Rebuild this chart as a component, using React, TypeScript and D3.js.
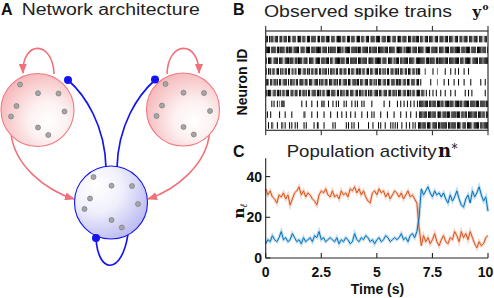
import React from "react";
import * as d3 from "d3";

// ---- panel B: observed spike trains, one string per neuron (0.05 s bins, digit = darkness 0-9)
const binSize = 0.05;
const spikeRows = [
  ["99095990999059909990", "99509990599909950999", "09999059909990999509", "99059999099509990999", "05999099509990599909",
   "99905999099950999059", "99099950999099599909", "95099909995099905999", "09990999509990599099", "95099909995099905990"],
  ["99990999909959999099", "59990999990599909999", "09995999990999909599", "99909999590999990999", "99599909999909959999",
   "09999959990999990599", "99909599999099990999", "99059999099999509999", "09999099959999909995", "99990999909999599909"],
  ["90999509999099950999", "95999099599990999509", "99905999909995999099", "50999995999099909999", "99099959999059999099",
   "99990999509999095999", "09959999099995099999", "99909995999909959999", "59990999959999099909", "99995099999099959999"],
  ["90959099059909590990", "99059095099905990959", "09909950990959909099", "59099059909950990995", "09959909905990995099",
   "90990959099059909959", "09950990995099095990", "00070000009000500000", "09000090009009000090", "00900000000000000000"],
  ["99509909959099059990", "90995909905999099509", "99059990959909950999", "09959099059990995099", "95990995099905990959",
   "09990599099509990995", "99059909950999059909", "00000000900000500000", "90009000090009000090", "00009000000009000900"],
  ["95999059909959099099", "90599099509909959099", "05999099590990599909", "99509909959099509990", "59909959099095990599",
   "90995099905990995909", "99059909959099059990", "99509009009009000900", "09000090009000000009", "00900900000000000900"],
  ["00000909009050999000", "00000000000090009000", "09000090009590009000", "90090900009090000900", "90900090900000090000",
   "00000090000900000090", "09009009009009009099", "99599909959990999599", "09999599909999599099", "99909999599909999599"],
  ["09009000000090000900", "00090000000000950000", "09000090000090000090", "00009000900090009000", "90000090000900090900",
   "00090000090000090000", "09000090009000090099", "95999099959990599909", "99599909999599909959", "90999959990999599099"],
  ["00900950009000950900", "09090090900000909000", "00090095000090000000", "90900000000090900909", "00090000000090009000",
   "09090009000090909090", "00900090090090900999", "59990999509999099599", "99909959999099950999", "09999509999909959999"],
].map((chunks) => chunks.join(""));

// ---- panel C: population activity, sampled every 0.1 s from 0 to 10 s
const sampleStep = 0.1;
const orangeActivity = [
  34, 31, 33, 30, 29, 27, 31, 30, 32, 29,
  31, 26, 29, 32, 33, 35, 31, 33, 30, 32,
  31, 29, 28, 26, 31, 33, 32, 34, 31, 30,
  33, 30, 31, 29, 33, 31, 32, 30, 34, 33,
  35, 32, 34, 31, 33, 30, 28, 27, 32, 33,
  31, 34, 32, 33, 30, 32, 29, 31, 33, 32,
  30, 32, 29, 31, 33, 30, 31, 29, 27, 15,
  6, 11, 8, 10, 7, 9, 12, 8, 6, 9,
  11, 8, 7, 10, 9, 13, 11, 8, 13, 10,
  12, 9, 13, 10, 7, 5, 8, 6, 7, 10,
  11,
];
const blueActivity = [
  7, 9, 8, 11, 9, 8, 10, 13, 9, 10,
  8, 9, 12, 10, 8, 9, 7, 10, 8, 9,
  10, 8, 11, 10, 13, 9, 10, 8, 9, 10,
  9, 8, 10, 7, 9, 8, 10, 9, 7, 8,
  12, 9, 8, 10, 9, 11, 10, 8, 9, 7,
  9, 10, 8, 9, 11, 10, 8, 9, 10, 9,
  10, 12, 9, 10, 8, 11, 12, 10, 13, 20,
  34, 31, 33, 35, 32, 30, 33, 31, 32, 30,
  32, 29, 27, 31, 28, 30, 33, 29, 26, 25,
  29, 31, 27, 33, 30, 32, 35, 31, 28, 30,
  23,
];
const timeTicks = [0, 2.5, 5, 7.5, 10];
const timeTickLabels = ["0", "2.5", "5", "7.5", "10"];
const activityTicks = [0, 20, 40];

// ---- panel A: neuron dots inside each population circle (offsets from centre)
const dotOffsets = [
  [-17.5, -25.5], [0.5, -16.8], [21, -16.5], [-21, -4], [27, 1.5], [-26.5, 6.5], [0.5, 17.5], [10.8, 25],
];

const sans = "'Liberation Sans', Arial, Helvetica, sans-serif";
const serif = "'DejaVu Serif', 'Liberation Serif', serif";
const pink = "#f2707a";
const blue = "#1414f0";
const orangeCol = "#D95319";
const blueCol = "#0072BD";

const App = () => {
  // shared time scale for panels B and C
  const x = d3.scaleLinear().domain([0, 10]).range([265.7, 488]);
  const yAct = d3.scaleLinear().domain([0, 49]).range([258, 158.3]);
  const yRow = d3.scaleLinear().domain([0.25, 9.45]).range([31, 130.3]);
  const rowH = 6.5;

  const line = d3.line<number>()
    .x((d, i) => x(i * sampleStep))
    .y(d => yAct(d));

  const pops = [
    { cx: 37.5, cy: 110, fill: "url(#gPink)", stroke: "#f27880" },
    { cx: 183, cy: 109.5, fill: "url(#gPink)", stroke: "#f27880" },
    { cx: 111, cy: 202.5, fill: "url(#gBlue)", stroke: blue },
  ];

  return (
    <svg width={494} height={298} viewBox="0 0 494 298"
      style={{ position: "absolute", left: 0, top: 0, background: "#fff" }}>
      <defs>
        <radialGradient id="gPink" cx="62%" cy="62%" r="75%" fx="66%" fy="66%">
          <stop offset="0%" stopColor="#ffffff" />
          <stop offset="35%" stopColor="#fdf1f1" />
          <stop offset="100%" stopColor="#f4adb0" />
        </radialGradient>
        <radialGradient id="gBlue" cx="32%" cy="30%" r="85%" fx="30%" fy="28%">
          <stop offset="0%" stopColor="#ffffff" />
          <stop offset="40%" stopColor="#f0f0fc" />
          <stop offset="100%" stopColor="#b0b0f0" />
        </radialGradient>
        <marker id="arrowPink" viewBox="0 0 10 8" refX="9" refY="4" markerWidth="10" markerHeight="8"
          markerUnits="userSpaceOnUse" orient="auto">
          <path d="M0,0 L10,4 L0,8 z" fill={pink} />
        </marker>
      </defs>

      {/* ---------- Panel A ---------- */}
      <text x={1} y={15} fontFamily={sans} fontWeight="bold" fontSize={16} fill="#111">A</text>
      <text x={21.7} y={15} fontFamily={sans} fontSize={16} textLength={178} lengthAdjust="spacingAndGlyphs" fill="#222">
        Network architecture
      </text>

      {/* excitatory self loops and cross projections */}
      <g fill="none" stroke={pink} strokeWidth={1.6} markerEnd="url(#arrowPink)">
        <path d="M 54,74 C 53,40 22,40 23,73" />
        <path d="M 167,74 C 168,40 199,40 199,73" />
        <path d="M 11,133 C 14,165 45,190 74,199" />
        <path d="M 209.5,133 C 206.5,165 175.5,190 148,199" />
      </g>

      {/* inhibitory projections */}
      <g fill="none" stroke={blue} strokeWidth={1.7}>
        <path d="M 106,168 C 105,125 85,95 68,80" />
        <path d="M 117,168 C 118,125 138,95 155,80" />
        <path d="M 96,238 C 98,275 122,275 128,234" />
      </g>

      {pops.map((p, i) => (
        <g key={i}>
          <circle cx={p.cx} cy={p.cy} r={36.5} fill={p.fill} stroke={p.stroke} strokeWidth={1.1} />
          {dotOffsets.map(([dx, dy], j) => (
            <circle key={j} cx={p.cx + dx} cy={p.cy + dy} r={2.5} fill="#a6a6a6" stroke="#7a7a7a" strokeWidth={0.7} />
          ))}
        </g>
      ))}
      <circle cx={68} cy={80} r={4} fill={blue} />
      <circle cx={155} cy={79.5} r={4} fill={blue} />
      <circle cx={96} cy={238} r={4} fill={blue} />

      {/* ---------- Panel B ---------- */}
      <text x={233} y={15} fontFamily={sans} fontWeight="bold" fontSize={16} fill="#111">B</text>
      <text x={264} y={16.5} fontFamily={sans} fontSize={17} textLength={188} lengthAdjust="spacingAndGlyphs" fill="#222">
        Observed spike trains
      </text>
      <text x={472.5} y={16.5} fontFamily={serif} fontWeight="bold" fontSize={15} fill="#111">y</text>
      <text x={482.5} y={10} fontFamily={serif} fontWeight="bold" fontSize={9} fill="#111">o</text>
      <text transform="translate(246.5, 82) rotate(-90)" textAnchor="middle" fontFamily={sans}
        fontWeight="bold" fontSize={14} fill="#111">Neuron ID</text>

      {spikeRows.map((row, r) => (
        <g key={r}>
          {row.split("").map((ch, i) => {
            const v = +ch;
            if (!v) return null;
            return (
              <rect key={i} x={x((i + 0.5) * binSize) - 0.5} y={yRow(r + 1) - rowH / 2}
                width={1} height={rowH} fill="#000" fillOpacity={v / 9} />
            );
          })}
        </g>
      ))}
      <rect x={x(0)} y={yRow(0.25)} width={x(10) - x(0)} height={yRow(9.45) - yRow(0.25)}
        fill="none" stroke="#333" strokeWidth={1.2} />
      {timeTicks.map((t, i) => (
        <g key={i} stroke="#333" strokeWidth={1.1}>
          <line x1={x(t)} x2={x(t)} y1={yRow(0.25)} y2={yRow(0.25) - 5} />
          <line x1={x(t)} x2={x(t)} y1={yRow(9.45)} y2={yRow(9.45) + 5} />
        </g>
      ))}

      {/* ---------- Panel C ---------- */}
      <text x={233} y={157} fontFamily={sans} fontWeight="bold" fontSize={16} fill="#111">C</text>
      <text x={286.7} y={156.7} fontFamily={sans} fontSize={17} textLength={150} lengthAdjust="spacingAndGlyphs" fill="#222">
        Population activity
      </text>
      <text x={438} y={156.7} fontFamily={serif} fontWeight="bold" fontSize={18} fill="#111">n</text>
      <text x={451.5} y={153} fontFamily={serif} fontSize={12} fill="#111">*</text>

      <text transform="translate(244, 211) rotate(-90)" textAnchor="middle" fontFamily={serif} fill="#111">
        <tspan fontWeight="bold" fontSize={15}>n</tspan>
        <tspan fontSize={10} fontStyle="italic" dy={3}>ℓ</tspan>
      </text>

      {/* activity traces with a pale halo */}
      <path d={line(orangeActivity) ?? ""} fill="none" stroke={orangeCol} strokeOpacity={0.25} strokeWidth={3} />
      <path d={line(blueActivity) ?? ""} fill="none" stroke={blueCol} strokeOpacity={0.25} strokeWidth={3} />
      <path d={line(orangeActivity) ?? ""} fill="none" stroke={orangeCol} strokeWidth={1} />
      <path d={line(blueActivity) ?? ""} fill="none" stroke={blueCol} strokeWidth={1} />

      {/* axes */}
      <g stroke="#222" strokeWidth={1.1}>
        <line x1={x(0)} x2={x(10)} y1={yAct(0)} y2={yAct(0)} />
        <line x1={x(0)} x2={x(0)} y1={yAct(0)} y2={yAct.range()[1]} />
        {timeTicks.map((t, i) => (
          <line key={i} x1={x(t)} x2={x(t)} y1={yAct(0)} y2={yAct(0) - 5} />
        ))}
        {activityTicks.map((v, i) => (
          <line key={i} x1={x(0)} x2={x(0) + 4.5} y1={yAct(v)} y2={yAct(v)} />
        ))}
      </g>
      {timeTicks.map((t, i) => (
        <text key={i} x={Math.min(x(t), 485.5)} y={276.7} textAnchor="middle" fontFamily={sans} fontWeight="bold"
          fontSize={14} fill="#111">{timeTickLabels[i]}</text>
      ))}
      {activityTicks.map((v, i) => (
        <text key={i} x={262} y={yAct(v) + 5} textAnchor="end" fontFamily={sans} fontWeight="bold"
          fontSize={14} fill="#111">{v}</text>
      ))}
      <text x={377.5} y={293.5} textAnchor="middle" fontFamily={sans} fontWeight="bold" fontSize={14} fill="#111">
        Time (s)
      </text>
    </svg>
  );
};

export default App;
